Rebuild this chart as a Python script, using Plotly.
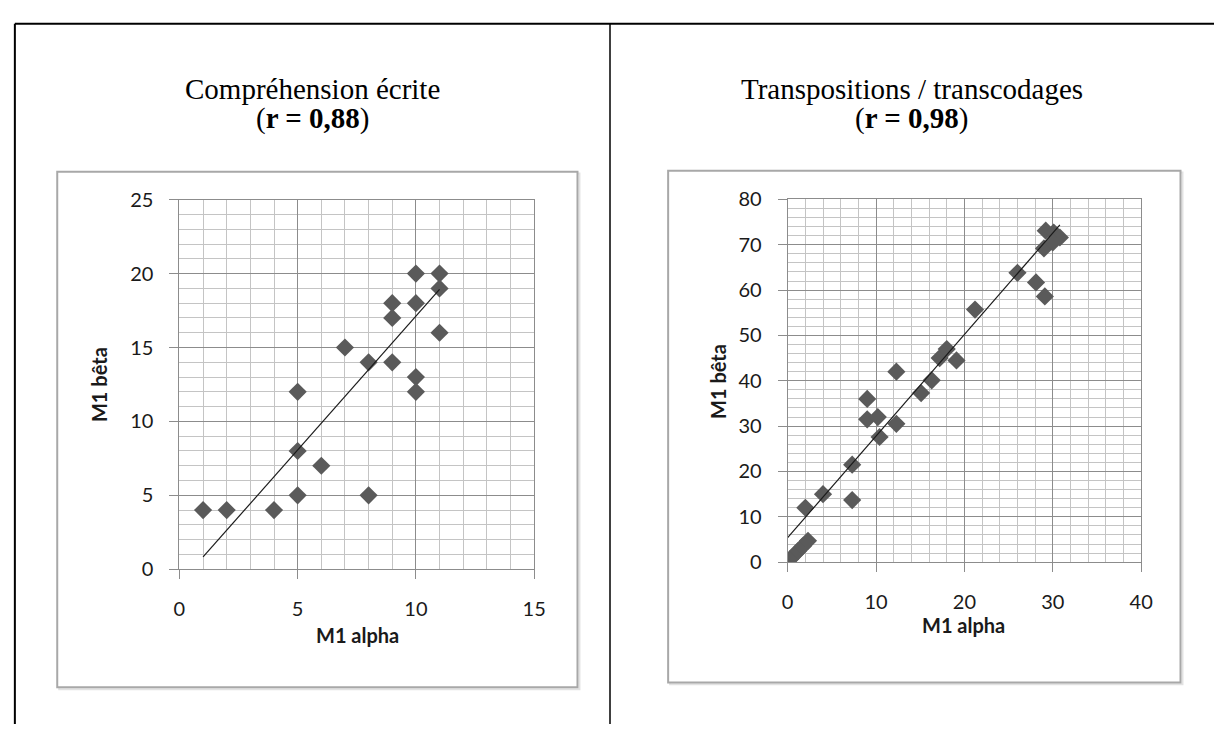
import numpy as np
import plotly.graph_objects as go

W, H = 1226, 735

# ---------------- data ----------------
comp_alpha = [1, 2, 4, 5, 5, 5, 6, 7, 8, 8, 9, 9, 9, 10, 10, 10, 10, 11, 11, 11]
comp_beta = [4, 4, 4, 5, 8, 12, 7, 15, 14, 5, 14, 17, 18, 18, 20, 13, 12, 20, 19, 16]
comp_trend = dict(slope=1.81, intercept=-0.98)   # linear trendline

trans_alpha = [0, 0.3, 0.7, 1.2, 1.7, 2.3, 2, 4, 7.3, 7.3, 9, 9, 10.2, 10.4, 12.3, 12.3,
               15.1, 16.3, 17.2, 18, 19.1, 21.2, 26, 28.1, 29.1, 29, 29.2, 30.1, 30.8, 30]
trans_beta = [0, 0.7, 1.5, 2.5, 3.5, 4.7, 12, 15, 13.7, 21.5, 36, 31.5, 32, 27.6, 42, 30.5,
              37.3, 40.1, 45, 47, 44.5, 55.7, 63.8, 61.7, 58.6, 69.2, 73.1, 72.7, 71.6, 70.5]
trans_trend = dict(slope=2.24, intercept=5.4)

titles = ["Compréhension écrite", "Transpositions / transcodages"]
r_values = ["0,88", "0,98"]
x_title = "M1 alpha"
y_title = "M1 bêta"

# ---------------- helpers ----------------
def px_x(p):
    return p / W

def px_y(p):
    return 1 - p / H

def trend(xs, t):
    x0, x1 = min(xs), max(xs)
    return [x0, x1], [t["slope"] * x0 + t["intercept"], t["slope"] * x1 + t["intercept"]]

MARK = "#5a5a5a"
MAJ = "#8c8c8c"
MIN = "#c4c4c4"
TICKFONT = dict(family="Lato", size=20, color="#1a1a1a")

fig = go.Figure()

for i, (xs, ys, t) in enumerate([(comp_alpha, comp_beta, comp_trend),
                                  (trans_alpha, trans_beta, trans_trend)]):
    xa = "x" if i == 0 else "x2"
    ya = "y" if i == 0 else "y2"
    fig.add_trace(go.Scatter(x=xs, y=ys, mode="markers", xaxis=xa, yaxis=ya,
                             marker=dict(symbol="diamond", size=14, color=MARK,
                                         line=dict(width=0)),
                             showlegend=False, hoverinfo="x+y"))
    tx, ty = trend(xs, t)
    fig.add_trace(go.Scatter(x=tx, y=ty, mode="lines", xaxis=xa, yaxis=ya,
                             line=dict(color="#1a1a1a", width=1.2),
                             showlegend=False, hoverinfo="skip"))

def axis(domain, rng, dtick, mdtick, anchor, standoff):
    return dict(domain=domain, range=rng, anchor=anchor, dtick=dtick, tick0=0,
                showgrid=True, gridcolor=MAJ, gridwidth=1,
                minor=dict(dtick=mdtick, tick0=0, showgrid=True, gridcolor=MIN,
                           gridwidth=1, ticks=""),
                ticks="outside", ticklen=9, tickcolor=MAJ, tickwidth=1,
                showline=True, linecolor=MAJ, linewidth=1, mirror=True,
                zeroline=False, tickfont=TICKFONT, ticklabelstandoff=standoff,
                fixedrange=True)

fig.update_layout(
    xaxis=axis([px_x(176), px_x(536)], [0, 15], 5, 1, "y", 13),
    yaxis=axis([px_y(575), px_y(193)], [0, 25], 5, 1, "x", 12),
    xaxis2=axis([px_x(793.3), px_x(1152.1)], [0, 40], 10, 2, "y2", 13),
    yaxis2=axis([px_y(567.7), px_y(192.7)], [0, 80], 10, 2, "x2", 12),
)

shapes = []
shapes.append(dict(type="line", xref="paper", yref="paper", x0=px_x(9), x1=px_x(1226),
                   y0=px_y(11), y1=px_y(11), line=dict(color="black", width=2)))
shapes.append(dict(type="line", xref="paper", yref="paper", x0=px_x(9), x1=px_x(9),
                   y0=px_y(11), y1=px_y(735), line=dict(color="black", width=2)))
shapes.append(dict(type="line", xref="paper", yref="paper", x0=px_x(613), x1=px_x(613),
                   y0=px_y(11), y1=px_y(735), line=dict(color="black", width=1.5)))
for (l, t, r, b) in [(52, 164, 580, 697), (672, 163, 1192, 692)]:
    # faint drop shadow then the gray frame
    shapes.append(dict(type="rect", xref="paper", yref="paper", x0=px_x(l + 2), x1=px_x(r + 2),
                       y0=px_y(b + 2), y1=px_y(t + 2), line=dict(color="#e2e2e2", width=2),
                       layer="below"))
    shapes.append(dict(type="rect", xref="paper", yref="paper", x0=px_x(l), x1=px_x(r),
                       y0=px_y(b), y1=px_y(t), line=dict(color="#a8a8a8", width=2),
                       fillcolor="white", layer="below"))
fig.update_layout(shapes=shapes)

ann = []
centers = [311, 919]
for i in range(2):
    ann.append(dict(text=titles[i], x=px_x(centers[i]), y=px_y(79), xref="paper", yref="paper",
                    showarrow=False, xanchor="center", yanchor="middle",
                    font=dict(family="Liberation Serif", size=29, color="black")))
    ann.append(dict(text="(<b>r = " + r_values[i] + "</b>)", x=px_x(centers[i]), y=px_y(109),
                    xref="paper", yref="paper", showarrow=False, xanchor="center",
                    yanchor="middle",
                    font=dict(family="Liberation Serif", size=29, color="black")))
for (cx, cy) in [(357, 643), (972, 633)]:
    ann.append(dict(text="<b>" + x_title + "</b>", x=px_x(cx), y=px_y(cy), xref="paper",
                    yref="paper", showarrow=False, xanchor="center", yanchor="middle",
                    font=dict(family="Lato", size=20, color="#1a1a1a")))
for (cx, cy) in [(95, 384), (722, 381)]:
    ann.append(dict(text="<b>" + y_title + "</b>", x=px_x(cx), y=px_y(cy), xref="paper",
                    yref="paper", showarrow=False, xanchor="center", yanchor="middle",
                    textangle=-90,
                    font=dict(family="Lato", size=20, color="#1a1a1a")))
fig.update_layout(annotations=ann)

fig.update_layout(width=W, height=H, margin=dict(l=0, r=0, t=0, b=0),
                  paper_bgcolor="white", plot_bgcolor="white", showlegend=False)

fig.write_html("out.html", config={"displayModeBar": False},
               post_script="document.body.style.margin='0';document.body.style.overflow='hidden';")
